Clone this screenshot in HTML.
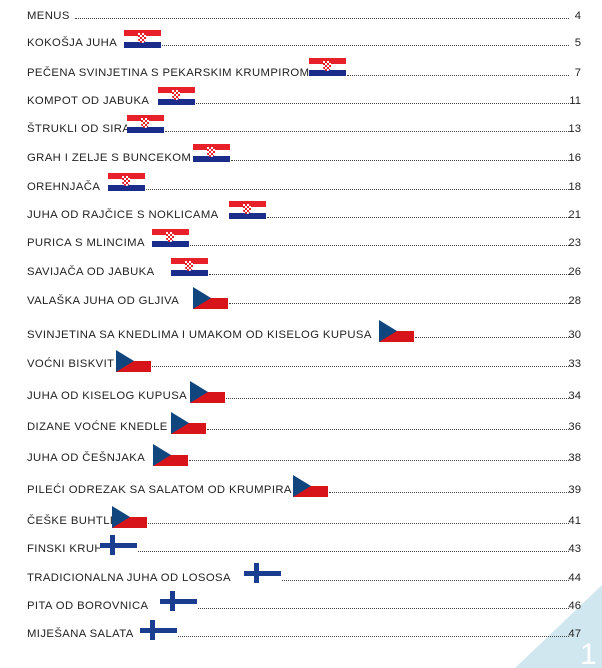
<!DOCTYPE html>
<html><head><meta charset="utf-8"><style>
body{margin:0;width:602px;height:668px;background:#fff;position:relative;overflow:hidden;font-family:"Liberation Sans",sans-serif;font-size:11.3px;color:#222}
.t{position:absolute;left:27px;line-height:12px;white-space:nowrap;letter-spacing:0.4px}
.n{position:absolute;right:21px;line-height:12px}
.d{position:absolute;height:0;border-bottom:1.2px dotted #444}
.hr,.cz,.fi{z-index:2}
.hr{position:absolute;width:37px;height:18px;background:linear-gradient(#e8202a 0 33%,#fff 33% 66%,#1a2d8a 66%)}
.hr::after{content:"";position:absolute;left:14px;top:3px;width:8px;height:10px;background:repeating-conic-gradient(#e8202a 0 25%,#fff 0 50%) 0 0/4px 4px;border-radius:0 0 4px 4px}
.cz{position:absolute;width:35px;height:22px;background:linear-gradient(#fff 50%,#d7141a 50%)}
.cz::before{content:"";position:absolute;left:0;top:0;border-top:11px solid transparent;border-bottom:11px solid transparent;border-left:18px solid #11457e}
.fi{position:absolute;width:37px;height:20px;background:#fff}
.fi::before{content:"";position:absolute;left:0;right:0;top:8px;height:5px;background:#1a3d8f}
.fi::after{content:"";position:absolute;top:0;bottom:0;left:10px;width:5px;background:#1a3d8f}
</style></head><body>
<svg style="position:absolute;left:0;top:0" width="602" height="668"><polygon points="515,668 602,585 602,668" fill="#d1e7f0"/><text x="580" y="664" font-family="Liberation Sans" font-size="30" fill="#fff" font-weight="300">1</text></svg>
<div id="c"></div>
<script>
var rows=[
["MENUS",null,0,0,4,10],
["KOKOŠJA JUHA","hr",124,30,5,37],
["PEČENA SVINJETINA S PEKARSKIM KRUMPIROM","hr",309,58,7,67],
["KOMPOT OD JABUKA","hr",158,87,11,95],
["ŠTRUKLI OD SIRA","hr",127,115,13,123],
["GRAH I ZELJE S BUNCEKOM","hr",193,144,16,152],
["OREHNJAČA","hr",108,173,18,181],
["JUHA OD RAJČICE S NOKLICAMA","hr",229,201,21,209],
["PURICA S MLINCIMA","hr",152,229,23,237],
["SAVIJAČA OD JABUKA","hr",171,258,26,266],
["VALAŠKA JUHA OD GLJIVA","cz",193,287,28,295],
["SVINJETINA SA KNEDLIMA I UMAKOM OD KISELOG KUPUSA","cz",379,320,30,329],
["VOĆNI BISKVIT","cz",116,350,33,358],
["JUHA OD KISELOG KUPUSA","cz",190,381,34,390],
["DIZANE VOĆNE KNEDLE","cz",171,412,36,421],
["JUHA OD ČEŠNJAKA","cz",153,444,38,452],
["PILEĆI ODREZAK SA SALATOM OD KRUMPIRA","cz",293,475,39,484],
["ČEŠKE BUHTLE","cz",112,506,41,515],
["FINSKI KRUH","fi",100,535,43,543],
["TRADICIONALNA JUHA OD LOSOSA","fi",244,563,44,572],
["PITA OD BOROVNICA","fi",160,591,46,600],
["MIJEŠANA SALATA","fi",140,620,47,628]];
var h="";
rows.forEach(function(r){
 var ty=r[5];
 h+='<div class="t" style="top:'+ty+'px">'+r[0]+'</div>';
 var ds;
 if(r[1]){h+='<div class="'+r[1]+'" style="left:'+r[2]+'px;top:'+r[3]+'px"></div>';ds=r[2]+(r[1]=="cz"?35:37)+1;}
 else ds=75;
 h+='<div class="d" style="left:'+ds+'px;width:'+(569-ds)+'px;top:'+(ty+8)+'px"></div>';
 h+='<div class="n" style="top:'+ty+'px">'+r[4]+'</div>';
});
document.getElementById("c").innerHTML=h;
</script>
</body></html>
